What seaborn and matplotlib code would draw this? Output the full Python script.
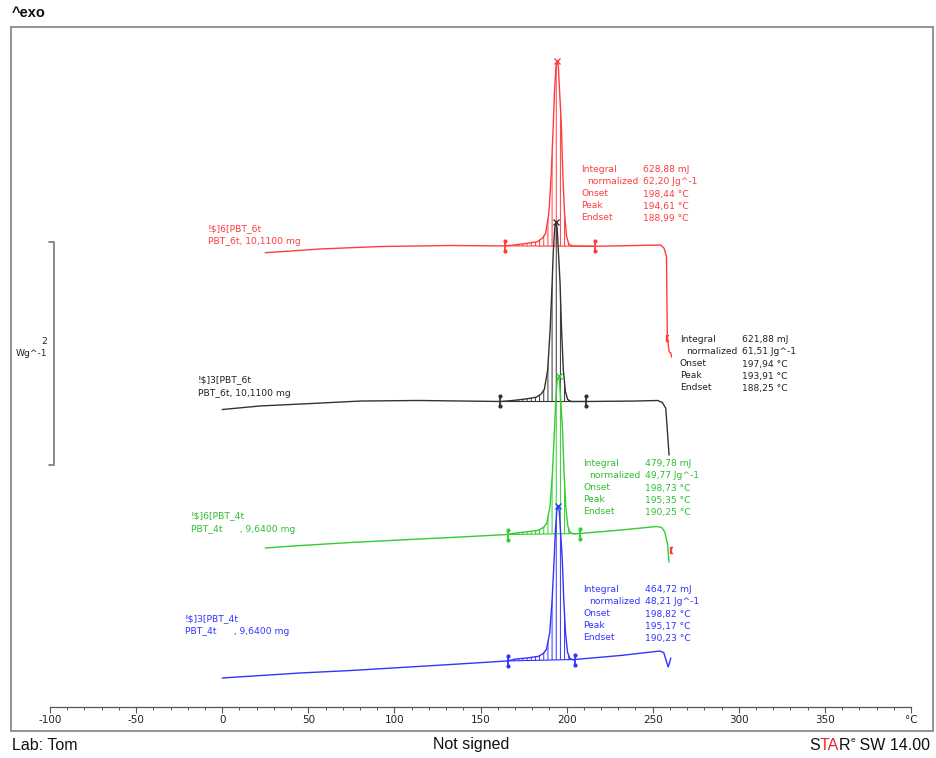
import numpy as np
import pandas as pd
import matplotlib
matplotlib.use("Agg")
import matplotlib.pyplot as plt
import matplotlib.transforms as mtransforms
from matplotlib.patches import Rectangle
from matplotlib.lines import Line2D
from matplotlib.ticker import MultipleLocator
import seaborn as sns

# ------------------------------------------------------------------ data
# temperature (degC) and displayed heat flow (W/g, curves shifted as displayed)
red_temp = [25.0, 57.0, 92.0, 132.6, 163.4, 169.4, 177.2, 183.0, 185.9, 187.8, 189.7,
            191.1, 192.3, 193.0, 193.8, 194.6, 195.2, 195.9, 196.9, 197.8, 198.8, 200.0,
            201.3, 203.3, 216.3, 240.0, 254.7, 256.6, 258.0, 258.5, 259.5, 260.5, 260.9]
red_hf = [4.074, 4.108, 4.130, 4.139, 4.135, 4.143, 4.159, 4.173, 4.204, 4.248, 4.428,
          4.787, 5.235, 5.534, 5.743, 5.796, 5.743, 5.534, 5.235, 4.787, 4.428, 4.218,
          4.152, 4.135, 4.132, 4.139, 4.143, 4.114, 4.039, 3.321, 3.187, 3.175, 3.139]

black_temp = [0.0, 22.1, 45.3, 80.2, 114.0, 161.6, 168.7, 176.5, 182.3, 185.2, 187.1,
              189.0, 190.4, 191.6, 192.3, 193.1, 193.9, 194.5, 195.2, 196.2, 197.1, 198.1,
              199.3, 200.6, 202.6, 211.0, 240.0, 252.9, 255.6, 257.6, 259.5]
black_hf = [2.668, 2.700, 2.717, 2.744, 2.749, 2.740, 2.749, 2.763, 2.778, 2.807, 2.850,
            3.023, 3.371, 3.805, 4.094, 4.296, 4.350, 4.296, 4.094, 3.805, 3.371, 3.023,
            2.830, 2.758, 2.740, 2.740, 2.744, 2.749, 2.731, 2.679, 2.260]

green_temp = [25.0, 45.3, 74.4, 103.5, 132.6, 165.7, 170.1, 177.9, 183.7, 186.6, 188.5,
              190.4, 191.8, 193.0, 193.7, 194.5, 195.35, 195.9, 196.6, 197.6, 198.5, 199.5,
              200.7, 202.0, 204.0, 207.6, 231.4, 252.3, 255.2, 257.0, 258.7, 259.5]
green_hf = [1.426, 1.448, 1.475, 1.498, 1.520, 1.547, 1.560, 1.573, 1.585, 1.611, 1.649,
            1.802, 2.108, 2.491, 2.746, 2.924, 2.969, 2.924, 2.746, 2.491, 2.108, 1.802,
            1.623, 1.567, 1.552, 1.556, 1.587, 1.619, 1.610, 1.570, 1.453, 1.300]

blue_temp = [0.0, 45.3, 74.4, 103.5, 132.6, 165.7, 169.9, 177.7, 183.5, 186.4, 188.3,
             190.2, 191.6, 192.8, 193.5, 194.3, 195.15, 195.75, 196.45, 197.45, 198.35,
             199.35, 200.55, 201.85, 203.85, 204.7, 231.4, 254.1, 256.4, 258.1, 259.0,
             259.9, 260.5]
blue_hf = [0.260, 0.305, 0.327, 0.354, 0.381, 0.413, 0.429, 0.441, 0.454, 0.479, 0.517,
           0.665, 0.963, 1.336, 1.584, 1.758, 1.803, 1.758, 1.584, 1.336, 0.963, 0.665,
           0.491, 0.437, 0.422, 0.426, 0.462, 0.502, 0.489, 0.404, 0.359, 0.404, 0.439]

# integration limits (degC)
limit_low = [164.0, 161.6, 165.7, 165.7]
limit_high = [216.3, 211.0, 207.6, 204.7]

# evaluation results
integral_mJ = [628.88, 621.88, 479.78, 464.72]
normalized_Jg = [62.20, 61.51, 49.77, 48.21]
onset_C = [198.44, 197.94, 198.73, 198.82]
peak_C = [194.61, 193.91, 195.35, 195.17]
endset_C = [188.99, 188.25, 190.25, 190.23]

curve_titles = ["!$]6[PBT_6t", "!$]3[PBT_6t", "!$]6[PBT_4t", "!$]3[PBT_4t"]
sample_names = ["PBT_6t", "PBT_6t", "PBT_4t      ", "PBT_4t      "]
sample_mass_mg = [10.11, 10.11, 9.64, 9.64]

# small red step-markers
step_mark_temp = [258.2, 260.5]
step_mark_hf = [3.309, 1.408]

scale_bar_value = 2.0      # W/g
scale_bar_base = 2.17      # W/g (display position)

x_ticks = [-100, -50, 0, 50, 100, 150, 200, 250, 300, 350, 400]
x_tick_labels = ["-100", "-50", "0", "50", "100", "150", "200", "250", "300", "350", "°C"]

# ------------------------------------------------------------------ style
sns.set_style("white")
plt.rcParams["font.family"] = ["DejaVu Sans"]
plt.rcParams["hatch.linewidth"] = 0.7

colors = ["#ff3c3c", "#333333", "#33cc33", "#3333ff"]
text_colors = ["#ff3c3c", "#222222", "#2ebf2e", "#3333ff"]
SMALL = 6.6

W, H = 936, 758
fig = plt.figure(figsize=(W / 100, H / 100), dpi=100)
fig.patch.set_facecolor("white")


def fx(x):
    return x / W


def fy(y):
    return 1 - y / H


PX_PER_WG = 111.5
ax = fig.add_axes([fx(50), fy(707), fx(911) - fx(50), fy(26) - fy(707)])
ax.set_xlim(-100, 400)
ax.set_ylim(0, 681 / PX_PER_WG)
ax.patch.set_alpha(0)
for s in ["left", "right", "top"]:
    ax.spines[s].set_visible(False)
ax.spines["bottom"].set_color("#555555")
ax.spines["bottom"].set_linewidth(0.9)
ax.set_yticks([])

# outer frame
fig.add_artist(Rectangle((fx(11), fy(731)), fx(933) - fx(11), fy(27) - fy(731),
                         transform=fig.transFigure, fill=False,
                         edgecolor="#8a8a8a", linewidth=1.3))

temps = [red_temp, black_temp, green_temp, blue_temp]
hfs = [red_hf, black_hf, green_hf, blue_hf]

for i in range(4):
    col = colors[i]
    df = pd.DataFrame({"T": temps[i], "hf": hfs[i]})
    sns.lineplot(data=df, x="T", y="hf", sort=False, estimator=None,
                 color=col, lw=1.0, ax=ax, legend=False)
    T = np.asarray(temps[i])
    y = np.asarray(hfs[i])
    mono = T < 250
    lo, hi = limit_low[i], limit_high[i]
    ylo = np.interp(lo, T[mono], y[mono])
    yhi = np.interp(hi, T[mono], y[mono])
    m = (T > lo) & (T < hi)
    Tin = np.concatenate([[lo], T[m], [hi]])
    yin = np.concatenate([[ylo], y[m], [yhi]])
    base = np.interp(Tin, [lo, hi], [ylo, yhi])
    ax.fill_between(Tin, base, yin, where=yin >= base, interpolate=True,
                    facecolor="none", edgecolor=col, hatch="||||", linewidth=0)
    ax.plot([lo, hi], [ylo, yhi], color=col, lw=0.8)
    # integration limit markers
    d = 5 / PX_PER_WG
    for tl, yl in ((lo, ylo), (hi, yhi)):
        ax.plot([tl, tl], [yl - d, yl + d], color=col, lw=1.3)
        ax.plot([tl, tl], [yl - d, yl + d], color=col, ls="none", marker="o", ms=2.0)
    # peak marker
    k = np.argmax(np.where(m, y, -np.inf))
    ax.plot(T[k], y[k], marker="x", color=col, ms=5, mew=1.0)

ax.plot(step_mark_temp, step_mark_hf, ls="none", marker="$[$", color=colors[0], ms=5)

ax.set_xlabel("")
ax.set_ylabel("")

# x axis ticks
ax.set_xticks(x_ticks)
ax.set_xticklabels(x_tick_labels)
ax.xaxis.set_minor_locator(MultipleLocator(10))
ax.tick_params(axis="x", which="major", direction="out", length=4, width=0.8,
               color="#555555", pad=2, labelsize=7.5, labelcolor="#222222")
ax.tick_params(axis="x", which="minor", direction="out", length=2.5, width=0.7,
               color="#555555")
ax.tick_params(axis="x", which="both", bottom=True)
for lbl in ax.get_xticklabels():
    lbl.set_fontfamily(["Liberation Sans Narrow", "DejaVu Sans"])

# scale bar
btrans = mtransforms.blended_transform_factory(fig.transFigure, ax.transData)
y0, y1 = scale_bar_base, scale_bar_base + scale_bar_value
fig.add_artist(Line2D([fx(49), fx(54), fx(54), fx(49)], [y1, y1, y0, y0],
                      transform=btrans, color="#777777", lw=1.2))
fig.text(fx(47), fy(341), f"{scale_bar_value:g}", ha="right", va="center", fontsize=SMALL, color="#222222")
fig.text(fx(47), fy(354), "Wg^-1", ha="right", va="center", fontsize=SMALL, color="#222222")


def fmt(v, nd=2):
    return f"{v:.{nd}f}".replace(".", ",")


# result blocks
block_pos = [(581, 170), (680, 340), (583, 464), (583, 590)]
label_pos = [(208, 229), (198, 380), (191, 516), (185, 619)]
for i in range(4):
    col_txt = text_colors[i]
    bx, by = block_pos[i]
    rows = [("Integral", f"{fmt(integral_mJ[i])} mJ", 0),
            ("normalized", f"{fmt(normalized_Jg[i])} Jg^-1", 6),
            ("Onset", f"{fmt(onset_C[i])} °C", 0),
            ("Peak", f"{fmt(peak_C[i])} °C", 0),
            ("Endset", f"{fmt(endset_C[i])} °C", 0)]
    for r, (name, val, ind) in enumerate(rows):
        yy = by + 12 * r
        fig.text(fx(bx + ind), fy(yy), name, ha="left", va="center", fontsize=SMALL, color=col_txt)
        fig.text(fx(bx + 62), fy(yy), val, ha="left", va="center", fontsize=SMALL, color=col_txt)
    lx, ly = label_pos[i]
    fig.text(fx(lx), fy(ly), curve_titles[i], ha="left", va="center", fontsize=SMALL, color=col_txt)
    fig.text(fx(lx), fy(ly + 13), f"{sample_names[i]}, {fmt(sample_mass_mg[i], 4)} mg",
             ha="left", va="center", fontsize=SMALL, color=col_txt)

# header / footer
fig.text(fx(12), fy(13), "^exo", ha="left", va="center", fontsize=10.5,
         fontweight="bold", family=["Liberation Sans", "DejaVu Sans"], color="#111111")
fig.text(fx(12), fy(745), "Lab: Tom", ha="left", va="center", fontsize=11.5,
         family=["Liberation Sans", "DejaVu Sans"], color="#111111")
fig.text(fx(471), fy(745), "Not signed", ha="center", va="center", fontsize=11.5,
         family=["Liberation Sans", "DejaVu Sans"], color="#111111")

renderer = fig.canvas.get_renderer()
pieces = [("S", "#111111", 11.5, 0), ("TA", "#e8262b", 11.5, 0), ("R", "#111111", 11.5, 0),
          ("e", "#111111", 6, 5), (" SW 14.00", "#111111", 11.5, 0)]
cur = 0.0
made = []
for s, c, fs, dy in pieces:
    t = fig.text(cur, fy(745 - dy), s, ha="left", va="center", fontsize=fs, color=c,
                 family=["Liberation Sans", "DejaVu Sans"])
    bb = t.get_window_extent(renderer)
    cur = bb.x1 / W
    made.append(t)
shift = fx(930) - cur
for t in made:
    t.set_x(t.get_position()[0] + shift)

fig.savefig("out.png", dpi=100, facecolor="white")
